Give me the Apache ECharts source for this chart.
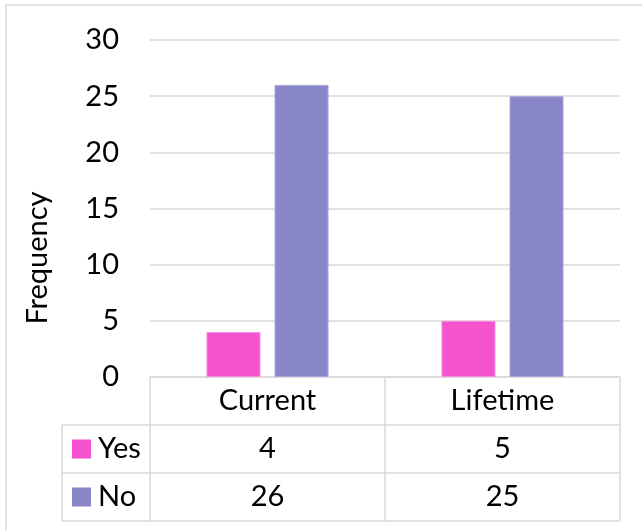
<!DOCTYPE html>
<html>
<head>
<meta charset="utf-8">
<script src="https://cdn.jsdelivr.net/npm/echarts@6/dist/echarts.min.js"></script>
<style>
  html, body { margin: 0; padding: 0; background: #fff; }
  #chart { width: 642px; height: 530px; }
</style>
</head>
<body>
<div id="chart"></div>
<script>
// Frequency of Yes / No answers, current vs lifetime
const categories = ['Current', 'Lifetime'];
const seriesNames = ['Yes', 'No'];
const yesValues = [4, 5];
const noValues = [26, 25];
const yTicks = { min: 0, max: 30, interval: 5 };
const yAxisTitle = 'Frequency';
const colors = ['#F552CF', '#8886C6'];

const FONT = 'Lato, "Noto Sans", sans-serif';
const FS = 29;
const LINE = '#D9D9D9';
const grid = { left: 150, right: 22, top: 40, bottom: 153 };

const chart = echarts.init(document.getElementById('chart'), null, { renderer: 'canvas' });

chart.setOption({
  animation: false,
  backgroundColor: '#fff',
  grid: grid,
  xAxis: {
    type: 'category',
    data: categories,
    axisLine: { lineStyle: { color: LINE, width: 1.5 } },
    axisTick: { show: true, length: 48, lineStyle: { color: LINE, width: 1.5 } },
    axisLabel: { fontFamily: FONT, fontSize: FS, color: '#000', margin: 9 }
  },
  yAxis: {
    type: 'value',
    min: yTicks.min,
    max: yTicks.max,
    interval: yTicks.interval,
    axisLine: { show: false },
    axisTick: { show: false },
    axisLabel: { fontFamily: FONT, fontSize: FS, color: '#000', margin: 31 },
    splitLine: { lineStyle: { color: LINE, width: 1.5 } }
  },
  series: [
    {
      name: seriesNames[0], type: 'bar', data: yesValues,
      barWidth: 54, barGap: '26%',
      itemStyle: { color: colors[0], borderColor: '#FB8AE0', borderWidth: 1 }
    },
    {
      name: seriesNames[1], type: 'bar', data: noValues,
      barWidth: 54,
      itemStyle: { color: colors[1], borderColor: '#A9A7DA', borderWidth: 1 }
    }
  ]
});

// Axis title, chart frame and the data table under the category axis
function drawExtras() {
  const x0 = chart.convertToPixel({ xAxisIndex: 0 }, 0);
  const x1 = chart.convertToPixel({ xAxisIndex: 0 }, 1);
  const band = x1 - x0;
  const left = x0 - band / 2;
  const right = x1 + band / 2;
  const axisY = chart.convertToPixel({ yAxisIndex: 0 }, 0);
  const headerH = 48;
  const rowH = 48;
  const tableLeft = 62;
  const rowTops = [axisY + headerH, axisY + headerH + rowH];
  const bottom = axisY + headerH + rowH * 2;
  const rows = [yesValues, noValues];
  const els = [];
  const line = (xa, ya, xb, yb) => ({
    type: 'line', shape: { x1: xa, y1: ya, x2: xb, y2: yb },
    style: { stroke: LINE, lineWidth: 1.5 }, silent: true
  });

  // outer frame of the chart
  els.push({ type: 'rect', shape: { x: 6, y: 5, width: 640, height: 530 },
    style: { fill: 'none', stroke: LINE, lineWidth: 1.5 }, silent: true });

  // value axis title
  els.push({ type: 'text', x: 38, y: 258, rotation: Math.PI / 2,
    style: { text: yAxisTitle, font: FS + 'px ' + FONT, fill: '#000',
             textAlign: 'center', textVerticalAlign: 'middle' }, silent: true });

  // horizontal rules
  els.push(line(tableLeft, rowTops[0], right, rowTops[0]));
  els.push(line(tableLeft, rowTops[1], right, rowTops[1]));
  els.push(line(tableLeft, bottom, right, bottom));
  // vertical rules below the header row
  els.push(line(tableLeft, rowTops[0], tableLeft, bottom));
  [left, left + band, right].forEach(function (x) {
    els.push(line(x, rowTops[0], x, bottom));
  });

  rows.forEach(function (vals, r) {
    const cy = rowTops[r] + rowH / 2;
    els.push({ type: 'rect', shape: { x: 72, y: cy - 9.5, width: 19, height: 19 },
      style: { fill: colors[r] }, silent: true });
    els.push({ type: 'text', x: 98, y: cy,
      style: { text: seriesNames[r], font: FS + 'px ' + FONT, fill: '#000',
               textAlign: 'left', textVerticalAlign: 'middle' }, silent: true });
    vals.forEach(function (v, c) {
      els.push({ type: 'text', x: left + band * (c + 0.5), y: cy,
        style: { text: String(v), font: FS + 'px ' + FONT, fill: '#000',
                 textAlign: 'center', textVerticalAlign: 'middle' }, silent: true });
    });
  });

  chart.setOption({ graphic: els });
}
drawExtras();
</script>
</body>
</html>
